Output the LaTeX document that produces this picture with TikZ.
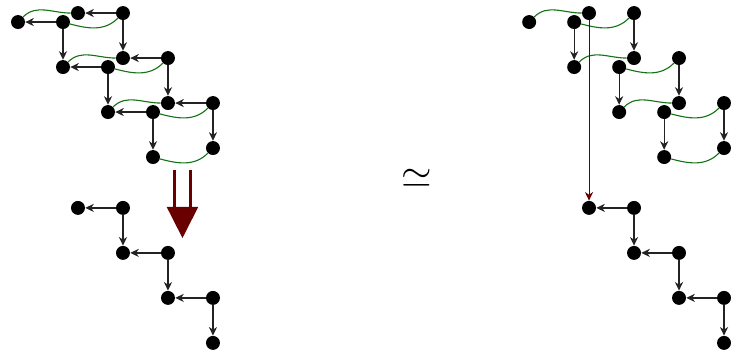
\documentclass[tikz,border=0pt]{standalone}
\usepackage{tikz}
\usetikzlibrary{arrows.meta, calc}
\definecolor{linkGreen}{RGB}{20,115,20}
\definecolor{mapRed}{RGB}{105,0,0}
\definecolor{edgeGray}{RGB}{35,35,35}

\begin{document}
\begin{tikzpicture}[
  dot/.style={circle, fill=black, inner sep=0pt, minimum size=0.31cm},
  arr/.style={-{Stealth[length=1.9mm, width=1.8mm, inset=0.6mm]}, thick, edgeGray},
  link/.style={linkGreen, line width=0.7pt},
  over/.style={link, out=45, in=180},
  under/.style={link, out=-15, in=-135}
]
  \useasboundingbox (0,0) rectangle (16.69,-7.87);

  % staircases: prefix / position of the first dot
  \foreach \p/\ox/\oy in {la/0.4/-0.49, lb/1.733/-0.29, lc/1.733/-4.62,
                          ra/11.76/-0.49, rb/13.09/-0.29, rc/13.09/-4.62}
    \foreach \i/\dx/\dy in {1/0/0, 2/1/0, 3/1/1, 4/2/1, 5/2/2, 6/3/2, 7/3/3}
      \node[dot] (\p\i) at (\ox+\dx, \oy-\dy) {};

  \foreach \p in {la, lb, lc, rc}
    \foreach \a/\b in {2/1, 4/3, 6/5}
      \draw[arr] (\p\a) -- (\p\b);
  \foreach \p in {la, lb, lc, ra, rb, rc}
    \foreach \a/\b in {2/3, 4/5, 6/7}
      \draw[arr] (\p\a) -- (\p\b);

  \foreach \s in {l, r} {
    \foreach \i in {1, 3, 5}
      \draw[over] (\s a\i) to (\s b\i);
    \foreach \i in {2, 4, 6, 7}
      \draw[under] (\s a\i) to (\s b\i);
  }

  % double arrow on the left
  \coordinate (ds) at (4.055,-3.78);
  \coordinate (dm) at (4.055,-4.6);
  \coordinate (de) at (4.055,-5.29);
  \draw[mapRed, line width=2pt] ([xshift=-0.17cm]ds) -- ([xshift=-0.17cm]dm);
  \draw[mapRed, line width=2pt] ([xshift=0.17cm]ds) -- ([xshift=0.17cm]dm);
  \fill[mapRed] ([xshift=-0.35cm]dm) -- ([xshift=0.35cm]dm) -- (de) -- cycle;

  \draw[mapRed, semithick, -{Stealth[length=1.9mm, width=1.8mm, inset=0.6mm]}]
    (rb1) -- (rc1);

  \node (eq) at (9.27,-3.96) {\Huge$\simeq$};
\end{tikzpicture}
\end{document}
